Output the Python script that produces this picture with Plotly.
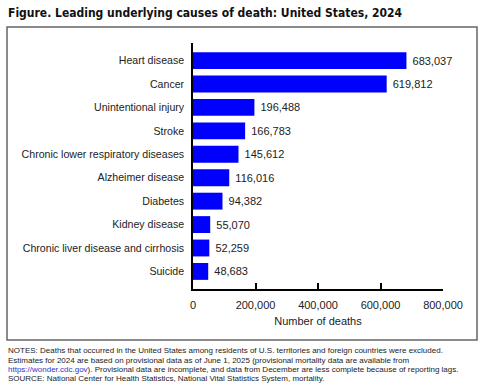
import plotly.graph_objects as go

causes = ["Heart disease", "Cancer", "Unintentional injury", "Stroke",
          "Chronic lower respiratory diseases", "Alzheimer disease", "Diabetes",
          "Kidney disease", "Chronic liver disease and cirrhosis", "Suicide"]
deaths = [683037, 619812, 196488, 166783, 145612, 116016, 94382, 55070, 52259, 48683]
tick_vals = [0, 200000, 400000, 600000, 800000]
tick_text = ["0", "200,000", "400,000", "600,000", "800,000"]

W, H = 484, 387
L, R, T, B = 193, 443, 43, 289

def px(x):
    return (x - L) / (R - L)

def py(y):
    return (B - y) / (B - T)

fnt = "Liberation Sans, Arial, sans-serif"

fig = go.Figure(go.Bar(
    x=deaths, y=causes, orientation="h",
    marker=dict(color="#0000FF", line=dict(width=0)),
    width=0.72,
    text=["\u00a0" + f"{v:,}" for v in deaths], textposition="outside",
    textfont=dict(family=fnt, size=11, color="#222"),
    cliponaxis=False,
))

notes = [
    "NOTES: Deaths that occurred in the United States among residents of U.S. territories and foreign countries were excluded.",
    "Estimates for 2024 are based on provisional data as of June 1, 2025 (provisional mortality data are available from",
    "<span style='color:#3333cc'>https://wonder.cdc.gov</span>). Provisional data are incomplete, and data from December are less complete because of reporting lags.",
    "SOURCE: National Center for Health Statistics, National Vital Statistics System, mortality.",
]
note_y = [350.7, 360, 369.2, 378.4]

annotations = [
    dict(text="<b>Figure. Leading underlying causes of death: United States, 2024</b>",
         xref="paper", yref="paper", x=px(6), y=py(13), xanchor="left", yanchor="middle",
         showarrow=False,
         font=dict(family="DejaVu Sans Condensed, Liberation Sans Narrow, sans-serif", size=12, color="#111")),
]
for t, yy in zip(notes, note_y):
    annotations.append(dict(text=t, xref="paper", yref="paper", x=px(6), y=py(yy),
                            xanchor="left", yanchor="middle", align="left", showarrow=False,
                            font=dict(family=fnt, size=8.0, color="#222")))

fig.update_layout(
    width=W, height=H,
    margin=dict(l=L, r=W - R, t=T, b=H - B, pad=0, autoexpand=False),
    paper_bgcolor="white", plot_bgcolor="white",
    showlegend=False,
    font=dict(family=fnt, size=11, color="#222"),
    xaxis=dict(range=[0, 800000], tickvals=tick_vals, ticktext=tick_text,
               ticks="inside", ticklen=6, tickwidth=1.5, tickcolor="black",
               showline=True, linecolor="black", linewidth=1.5,
               showgrid=False, zeroline=False, automargin=False,
               ticklabelstandoff=5,
               title=dict(text="Number of deaths", font=dict(size=11), standoff=7),
               tickfont=dict(size=11)),
    yaxis=dict(autorange=False, range=[9.75, -0.75],
               categoryorder="array", categoryarray=causes,
               showline=True, linecolor="black", linewidth=1.5,
               showgrid=False, zeroline=False, ticks="", automargin=False,
               ticklabelstandoff=5, tickfont=dict(size=10.6)),
    shapes=[dict(type="rect", xref="paper", yref="paper",
                 x0=px(7), x1=px(477), y0=py(340), y1=py(27),
                 line=dict(color="#666", width=1.5), fillcolor="rgba(0,0,0,0)")],
    annotations=annotations,
)

fig.write_html("out.html", config={"displayModeBar": False},
               post_script="document.body.style.margin='0px';")
